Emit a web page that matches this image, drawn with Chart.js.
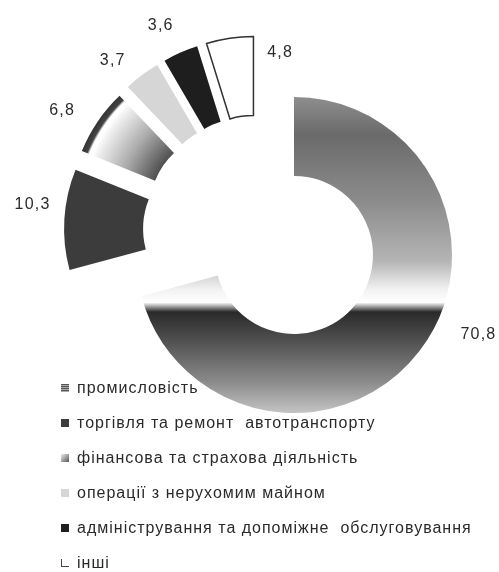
<!DOCTYPE html>
<html lang="uk">
<head>
<meta charset="utf-8">
<script src="https://cdn.jsdelivr.net/npm/chart.js@4.4.1/dist/chart.umd.min.js"></script>
<style>
    body { margin: 0; background: #fff; }
    #obgortka { position: relative; width: 499px; height: 572px; overflow: hidden; }
    #legenda {
        position: absolute; left: 61px; top: 370px; margin: 0; padding: 0; list-style: none;
        font: 16px "Liberation Sans", Arial, sans-serif; color: #2a2a2a; letter-spacing: 1px;
    }
    #legenda li { height: 35px; display: flex; align-items: center; white-space: pre; }
    #legenda .znak { width: 8px; height: 8px; margin-right: 8px; box-sizing: border-box; flex: none; }
</style>
</head>
<body>
<div id="obgortka">
    <canvas id="graf" width="499" height="572"></canvas>
    <ul id="legenda"></ul>
</div>
<script>
const galuzi = [
    "промисловість",
    "торгівля та ремонт  автотранспорту",
    "фінансова та страхова діяльність",
    "операції з нерухомим майном",
    "адміністрування та допоміжне  обслуговування",
    "інші"
];
const chastky = [70.8, 10.3, 6.8, 3.7, 3.6, 4.8];

// заливки сегментів (0 і 2 - градієнти, будуються нижче)
const kolory = [null, "#3c3c3c", null, "#d6d6d6", "#1e1e1e", "#ffffff"];
const znakyLegendy = [
    "repeating-linear-gradient(#555 0 1px, #aaa 1px 2px)",
    "#3c3c3c",
    "linear-gradient(135deg, #eee, #555)",
    "#d6d6d6",
    "#1e1e1e",
    "#ffffff"
];

const RADIUS = 158;
const VYNOS = 37;           // винесення малих сегментів
const ZSUV_X = -35, ZSUV_Y = -24;

// розміщення підписів відносно сегмента: зсув кута (град) і відступ від зовнішнього радіуса
const pidpysy = [
    { dA: -14, dR: 43 },
    { dA: 3.8, dR: 33 },
    { dA: -3.2, dR: 36 },
    { dA: -4.4, dR: 30 },
    { dA: -2.1, dR: 33 },
    { dA: 19.3, dR: -14 }
];

function formatuvaty(v) {
    return v.toFixed(1).replace('.', ',');
}

function zsuvDlya(arc, i) {
    if (i === 0) return { x: 0, y: 0 };
    const m = (arc.startAngle + arc.endAngle) / 2;
    return { x: ZSUV_X + Math.cos(m) * VYNOS, y: ZSUV_Y + Math.sin(m) * VYNOS };
}

function zalyvka(context) {
    const chart = context.chart;
    const area = chart.chartArea;
    const i = context.dataIndex;
    if (!area) return kolory[i] || '#888';
    const cx = (area.left + area.right) / 2;
    const cy = (area.top + area.bottom) / 2;
    const ctx = chart.ctx;
    if (i === 0) {
        const g = ctx.createLinearGradient(0, cy - RADIUS, 0, cy + RADIUS);
        g.addColorStop(0, '#8e8e8e');
        g.addColorStop(0.12, '#6a6a6a');
        g.addColorStop(0.33, '#8c8c8c');
        g.addColorStop(0.52, '#b5b5b5');
        g.addColorStop(0.61, '#f2f2f2');
        g.addColorStop(0.65, '#ffffff');
        g.addColorStop(0.68, '#2a2a2a');
        g.addColorStop(0.77, '#505050');
        g.addColorStop(0.9, '#8a8a8a');
        g.addColorStop(1, '#c4c4c4');
        return g;
    }
    if (i === 2) {
        const g = ctx.createRadialGradient(cx, cy, RADIUS / 2, cx, cy, RADIUS);
        g.addColorStop(0, '#505050');
        g.addColorStop(0.4, '#aaaaaa');
        g.addColorStop(0.77, '#ececec');
        g.addColorStop(0.86, '#ffffff');
        g.addColorStop(0.9, '#ffffff');
        g.addColorStop(0.93, '#444444');
        g.addColorStop(1, '#333333');
        return g;
    }
    return kolory[i];
}

const rozsuv = {
    id: 'rozsuv',
    beforeDatasetDraw(chart, args) {
        const ctx = chart.ctx;
        args.meta.data.forEach((arc, i) => {
            const z = zsuvDlya(arc, i);
            ctx.save();
            ctx.translate(z.x, z.y);
            arc.draw(ctx);
            ctx.restore();
        });
        return false;
    },
    afterDatasetsDraw(chart) {
        const ctx = chart.ctx;
        const meta = chart.getDatasetMeta(0);
        ctx.save();
        ctx.font = '16px "Liberation Sans", Arial, sans-serif';
        ctx.letterSpacing = '1.2px';
        ctx.fillStyle = '#2b2b2b';
        ctx.textAlign = 'center';
        ctx.textBaseline = 'middle';
        meta.data.forEach((arc, i) => {
            const z = zsuvDlya(arc, i);
            const p = pidpysy[i];
            const kut = (arc.startAngle + arc.endAngle) / 2 + p.dA * Math.PI / 180;
            const r = arc.outerRadius + p.dR;
            ctx.fillText(formatuvaty(chastky[i]), arc.x + z.x + Math.cos(kut) * r, arc.y + z.y + Math.sin(kut) * r);
        });
        ctx.restore();
    }
};

function pobuduvatyLegendu() {
    const ul = document.getElementById('legenda');
    galuzi.forEach((nazva, i) => {
        const li = document.createElement('li');
        const znak = document.createElement('span');
        znak.className = 'znak';
        znak.style.background = znakyLegendy[i];
        if (i === galuzi.length - 1) {
            znak.style.borderLeft = '1px solid #444';
            znak.style.borderBottom = '1px solid #444';
        }
        li.appendChild(znak);
        li.appendChild(document.createTextNode(nazva));
        ul.appendChild(li);
    });
}

pobuduvatyLegendu();

new Chart(document.getElementById('graf'), {
    type: 'doughnut',
    data: {
        labels: galuzi,
        datasets: [{
            data: chastky,
            backgroundColor: zalyvka,
            borderColor: '#333',
            borderWidth: [0, 0, 0, 0, 0, 1.5],
            borderJoinStyle: 'miter',
            hoverOffset: 0
        }]
    },
    options: {
        responsive: false,
        animation: false,
        events: [],
        radius: RADIUS,
        cutout: '50%',
        layout: { padding: { left: 89, right: 0, top: 0, bottom: 62 } },
        plugins: {
            legend: { display: false },
            tooltip: { enabled: false }
        }
    },
    plugins: [rozsuv]
});
</script>
</body>
</html>
